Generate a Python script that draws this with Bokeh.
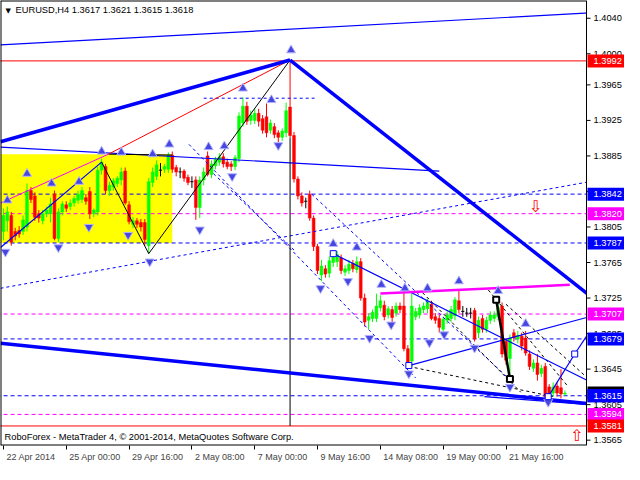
from bokeh.plotting import figure
from bokeh.models import Range1d, FixedTicker, Label
from bokeh.embed import file_html
from bokeh.resources import INLINE
from bokeh.core.properties import value

FONT = "Liberation Sans"
FS = "9.3px"

# ---------------- candles (EURUSD H4) ----------------
opens = [1.3800,1.3812,1.3818,1.3800,1.3801,1.3800,1.3805,1.3846,1.3840,1.3820,
         1.3812,1.3820,1.3820,1.3842,1.3792,1.3822,1.3830,1.3828,1.3832,1.3835,
         1.3836,1.3838,1.3845,1.3820,1.3822,1.3869,1.3873,1.3846,1.3850,1.3854,
         1.3858,1.3868,1.3830,1.3808,1.3812,1.3810,1.3810,1.3784,1.3855,1.3862,
         1.3869,1.3870,1.3870,1.3886,1.3872,1.3867,1.3868,1.3861,1.3856,1.3858,
         1.3827,1.3858,1.3885,1.3864,1.3874,1.3878,1.3884,1.3878,1.3876,1.3873,
         1.3882,1.3922,1.3941,1.3925,1.3925,1.3933,1.3927,1.3929,1.3914,1.3918,
         1.3911,1.3906,1.3911,1.3940,1.3908,1.3859,1.3840,1.3834,1.3842,1.3815,
         1.3783,1.3751,1.3758,1.3753,1.3765,1.3766,1.3770,1.3754,1.3756,1.3764,
         1.3757,1.3766,1.3725,1.3700,1.3702,1.3702,1.3714,1.3717,1.3706,1.3712,
         1.3708,1.3716,1.3716,1.3668,1.3654,1.3704,1.3706,1.3712,1.3713,1.3718,
         1.3704,1.3702,1.3690,1.3700,1.3702,1.3705,1.3722,1.3710,1.3708,1.3708,
         1.3711,1.3686,1.3702,1.3690,1.3700,1.3702,1.3704,1.3716,1.3676,1.3657,
         1.3686,1.3679,1.3682,1.3680,1.3662,1.3646,1.3652,1.3640,1.3648,1.3625,
         1.3618,1.3626,1.3624,1.3617]
highs = [1.3826,1.3828,1.3822,1.3804,1.3806,1.3818,1.3854,1.3850,1.3844,1.3824,
         1.3824,1.3828,1.3838,1.3846,1.3826,1.3834,1.3834,1.3836,1.3840,1.3846,
         1.3850,1.3842,1.3850,1.3826,1.3873,1.3882,1.3876,1.3856,1.3860,1.3862,
         1.3872,1.3872,1.3834,1.3816,1.3815,1.3814,1.3814,1.3860,1.3872,1.3880,
         1.3877,1.3876,1.3889,1.3890,1.3875,1.3872,1.3870,1.3864,1.3862,1.3862,
         1.3862,1.3872,1.3890,1.3880,1.3884,1.3888,1.3888,1.3882,1.3879,1.3886,
         1.3934,1.3951,1.3946,1.3936,1.3938,1.3938,1.3931,1.3944,1.3926,1.3922,
         1.3914,1.3916,1.3945,1.3992,1.3912,1.3862,1.3844,1.3838,1.3846,1.3818,
         1.3786,1.3768,1.3762,1.3772,1.3776,1.3778,1.3774,1.3762,1.3768,1.3768,
         1.3772,1.3770,1.3730,1.3708,1.3712,1.3730,1.3728,1.3722,1.3716,1.3716,
         1.3720,1.3720,1.3738,1.3672,1.3730,1.3714,1.3718,1.3720,1.3724,1.3722,
         1.3708,1.3706,1.3704,1.3710,1.3716,1.3726,1.3734,1.3716,1.3714,1.3714,
         1.3714,1.3704,1.3706,1.3704,1.3710,1.3710,1.3724,1.3720,1.3680,1.3684,
         1.3690,1.3688,1.3686,1.3688,1.3666,1.3656,1.3662,1.3650,1.3652,1.3628,
         1.3630,1.3630,1.3645,1.3621]
lows = [1.3790,1.3800,1.3784,1.3790,1.3793,1.3796,1.3800,1.3832,1.3812,1.3810,
        1.3808,1.3816,1.3810,1.3790,1.3788,1.3818,1.3822,1.3824,1.3828,1.3831,
        1.3832,1.3830,1.3814,1.3816,1.3818,1.3864,1.3842,1.3840,1.3846,1.3850,
        1.3852,1.3830,1.3808,1.3804,1.3804,1.3800,1.3784,1.3775,1.3850,1.3858,
        1.3862,1.3866,1.3866,1.3866,1.3862,1.3860,1.3856,1.3852,1.3849,1.3813,
        1.3815,1.3852,1.3862,1.3860,1.3870,1.3874,1.3872,1.3870,1.3868,1.3869,
        1.3878,1.3918,1.3920,1.3920,1.3921,1.3918,1.3910,1.3906,1.3910,1.3905,
        1.3900,1.3902,1.3906,1.3905,1.3855,1.3836,1.3828,1.3826,1.3812,1.3778,
        1.3752,1.3744,1.3748,1.3748,1.3760,1.3760,1.3752,1.3750,1.3752,1.3754,
        1.3753,1.3722,1.3693,1.3690,1.3698,1.3698,1.3710,1.3700,1.3702,1.3698,
        1.3704,1.3708,1.3665,1.3649,1.3648,1.3700,1.3702,1.3708,1.3708,1.3700,
        1.3696,1.3686,1.3686,1.3696,1.3698,1.3700,1.3708,1.3704,1.3704,1.3702,
        1.3676,1.3680,1.3686,1.3686,1.3696,1.3698,1.3700,1.3658,1.3650,1.3634,
        1.3676,1.3674,1.3666,1.3660,1.3644,1.3642,1.3632,1.3636,1.3610,1.3606,
        1.3614,1.3614,1.3612,1.3615]
closes = [1.3818,1.3822,1.3788,1.3795,1.3797,1.3813,1.3846,1.3836,1.3816,1.3815,
          1.3820,1.3824,1.3831,1.3792,1.3822,1.3831,1.3826,1.3832,1.3837,1.3842,
          1.3846,1.3834,1.3820,1.3824,1.3869,1.3878,1.3846,1.3852,1.3857,1.3860,
          1.3867,1.3832,1.3811,1.3812,1.3808,1.3805,1.3791,1.3856,1.3867,1.3875,
          1.3869,1.3873,1.3886,1.3870,1.3867,1.3867,1.3860,1.3855,1.3856,1.3827,
          1.3858,1.3867,1.3864,1.3876,1.3881,1.3884,1.3876,1.3873,1.3873,1.3883,
          1.3930,1.3941,1.3924,1.3931,1.3933,1.3924,1.3914,1.3911,1.3922,1.3909,
          1.3906,1.3913,1.3936,1.3908,1.3859,1.3840,1.3832,1.3834,1.3815,1.3783,
          1.3756,1.3761,1.3752,1.3767,1.3771,1.3774,1.3756,1.3758,1.3763,1.3758,
          1.3766,1.3725,1.3698,1.3704,1.3709,1.3716,1.3722,1.3704,1.3713,1.3703,
          1.3716,1.3712,1.3668,1.3652,1.3716,1.3710,1.3714,1.3716,1.3720,1.3702,
          1.3700,1.3692,1.3701,1.3706,1.3712,1.3723,1.3712,1.3710,1.3708,1.3708,
          1.3679,1.3700,1.3690,1.3700,1.3706,1.3706,1.3714,1.3662,1.3655,1.3680,
          1.3680,1.3683,1.3671,1.3663,1.3648,1.3652,1.3639,1.3646,1.3614,1.3614,
          1.3625,1.3618,1.3617,1.3618]

# ---------------- axes ----------------
price_ticks = [1.4040, 1.4000, 1.3965, 1.3925, 1.3885, 1.3845, 1.3805, 1.3765,
               1.3725, 1.3685, 1.3645, 1.3605, 1.3565]
date_ticks = [0, 16, 32, 48, 64, 80, 96, 112, 128]
date_labels = ["22 Apr 2014", "25 Apr 00:00", "29 Apr 16:00", "2 May 08:00", "7 May 00:00",
               "9 May 16:00", "14 May 08:00", "19 May 00:00", "21 May 16:00"]

# ---------------- horizontal levels ----------------
level_prices = [1.3992, 1.3842, 1.3820, 1.3787, 1.3707, 1.3679, 1.3615, 1.3594, 1.3581]
level_colors = ["#FF0000", "#0000FF", "#FF00FF", "#0000FF", "#FF00FF", "#0000FF", "#0000FF", "#FF00FF", "#FF0000"]
level_solid = [True, False, False, False, False, False, False, False, True]
last_price = 1.3618

# ---------------- drawing objects (bar index, price) ----------------
yellow_box = (-0.75, 43.0, 1.3787, 1.3887)  # left, right, bottom, top
thin_blue = [(-0.75, 1.4010, 149.25, 1.4046), (-0.75, 1.3895, 111.0, 1.3868),
             (-0.75, 1.3782, 25.0, 1.3878), (84.0, 1.3775, 149.25, 1.3631),
             (103.25, 1.3649, 149.25, 1.3704), (138.75, 1.3614, 145.5, 1.3662),
             (145.5, 1.3662, 149.25, 1.3687), (122.5, 1.3614, 149.25, 1.3605)]
thick_blue = [(-0.75, 1.3901, 73.0, 1.3993), (73.0, 1.3993, 149.25, 1.3728),
              (-0.75, 1.3674, 149.25, 1.3606)]
dashed_blue = [(-0.75, 1.3736, 149.25, 1.3856), (47.25, 1.3898, 105.0, 1.3635),
               (78.5, 1.3842, 129.0, 1.3633), (53.5, 1.3865, 74.25, 1.3778),
               (51.0, 1.3950, 79.25, 1.3950)]
black_thin = [(25.0, 1.3878, 37.0, 1.3775), (37.0, 1.3775, 73.0, 1.3993),
              (73.0, 1.3905, 73.0, 1.3581), (26.75, 1.3887, 43.0, 1.3886)]
red_thin = [(26.75, 1.3887, 73.0, 1.3993)]
magenta_thin = [(-0.75, 1.3832, 26.75, 1.3887)]
magenta_thick = [(96.0, 1.3730, 144.25, 1.3740)]
black_thick = [(125.5, 1.3723, 129.0, 1.3634)]
black_dashed = [(106.75, 1.3731, 131.75, 1.3619), (123.5, 1.3734, 143.5, 1.3627),
                (128.0, 1.3718, 148.75, 1.3635), (103.25, 1.3648, 140.0, 1.3614)]

up_x = [1.0, 6.0, 12.25, 19.25, 25.0, 30.0, 38.0, 42.25, 52.25, 56.25, 61.0, 68.25, 73.25,
        84.0, 90.0, 96.25, 102.25, 108.0, 116.0, 126.0, 133.0]
up_y = [1.3835, 1.3865, 1.3854, 1.3856, 1.3890, 1.3889, 1.3887, 1.3898, 1.3895, 1.3896, 1.3961,
        1.3948, 1.4004, 1.3786, 1.3782, 1.3740, 1.3736, 1.3736, 1.3744, 1.3733, 1.3696]
down_x = [0.5, 14.0, 21.75, 31.75, 37.25, 50.0, 58.25, 70.0, 80.75, 87.75, 93.25, 98.75,
          103.25, 108.5, 112.25, 120.0, 129.0, 138.75]
down_y = [1.3777, 1.3782, 1.3805, 1.3796, 1.3766, 1.3802, 1.3862, 1.3897, 1.3736, 1.3744,
          1.3680, 1.3695, 1.3640, 1.3675, 1.3684, 1.3669, 1.3625, 1.3608]
blue_sq_x = [84.0, 103.25, 138.75, 145.5]
blue_sq_y = [1.3775, 1.3649, 1.3614, 1.3662]
black_sq_x = [125.5, 129.0]
black_sq_y = [1.3723, 1.3634]
sig_down = (135.5, 1.3828)
sig_up = (146.0, 1.3570)

# ---------------- geometry ----------------
W, H = 624, 464
SCALE_PX = 38                      # width of the price-scale strip
X0, X_CH = -0.75, 148.5            # visible bars (chart part)
PPB = (W - SCALE_PX) / (X_CH - X0)  # pixels per bar
X1 = X0 + W / PPB
Y0, Y1 = 1.3559, 1.4060

p = figure(width=W, height=H, x_range=Range1d(X0, X1), y_range=Range1d(Y0, Y1),
           output_backend="svg", toolbar_location=None, y_axis_location=None,
           min_border_left=0, min_border_top=0, min_border_bottom=0, min_border_right=0,
           background_fill_color="white", border_fill_color="white")
p.xgrid.visible = False
p.ygrid.visible = False
p.outline_line_color = None

# date axis: tick marks (minor ticks) at the bar times, labels set just to their right
CW = {" ": 0.278, ":": 0.278, "A": 0.667, "M": 0.833, "p": 0.556, "r": 0.333, "a": 0.556, "y": 0.5}
def text_w(s, px=9.0):
    return sum(CW.get(ch, 0.556) for ch in s) * px

label_pos = [round(t + (3 + text_w(l) / 2) / PPB, 3) for t, l in zip(date_ticks, date_labels)]
xa = p.xaxis[0]
xa.ticker = FixedTicker(ticks=label_pos, minor_ticks=date_ticks)
xa.major_label_overrides = {pos: l for pos, l in zip(label_pos, date_labels)}
xa.major_label_text_font = FONT
xa.major_label_text_font_size = "9px"
xa.major_label_standoff = 2
xa.major_tick_out = 0
xa.major_tick_in = 0
xa.minor_tick_out = 4
xa.minor_tick_in = 0
xa.minor_tick_line_color = "black"
xa.axis_line_color = None

# yellow rectangle (background object)
p.quad(left=[yellow_box[0]], right=[yellow_box[1]], bottom=[yellow_box[2]], top=[yellow_box[3]],
       fill_color="#FFFF00", line_color=None)

# horizontal levels
for lv, col, solid in zip(level_prices, level_colors, level_solid):
    p.segment(x0=[X0 - 1], y0=[lv], x1=[X_CH], y1=[lv], line_color=col, line_width=1,
              line_dash="solid" if solid else "4 3")

# candles
n = len(opens)
idx = list(range(n))
wick_cols = ["#00FF00" if c > o else ("#FF0000" if c < o else "#000000") for o, c in zip(opens, closes)]
p.segment(x0=idx, y0=lows, x1=idx, y1=highs, line_color=wick_cols, line_width=1)
body_top = [max(o, c) for o, c in zip(opens, closes)]
body_bot = [min(o, c) for o, c in zip(opens, closes)]
body_cols = ["#00FF00" if c > o else "#FF0000" for o, c in zip(opens, closes)]
nd = [i for i in idx if opens[i] != closes[i]]
p.vbar(x=nd, width=0.72, top=[body_top[i] for i in nd], bottom=[body_bot[i] for i in nd],
       fill_color=[body_cols[i] for i in nd], line_color=[body_cols[i] for i in nd], line_width=0.5)
dj = [i for i in idx if opens[i] == closes[i]]
p.segment(x0=[i - 0.4 for i in dj], y0=[opens[i] for i in dj], x1=[i + 0.4 for i in dj],
          y1=[opens[i] for i in dj], line_color="black", line_width=1)


def segs(lst, **kw):
    p.segment(x0=[s[0] for s in lst], y0=[s[1] for s in lst],
              x1=[s[2] for s in lst], y1=[s[3] for s in lst], **kw)


segs(dashed_blue, line_color="#0000FF", line_width=1, line_dash="3 3")
segs(black_dashed, line_color="#000000", line_width=1, line_dash="3 3")
segs(thin_blue, line_color="#0000FF", line_width=1.2)
segs(black_thin, line_color="#000000", line_width=1)
segs(red_thin, line_color="#FF0000", line_width=1)
segs(magenta_thin, line_color="#FF00FF", line_width=1)
segs(magenta_thick, line_color="#FF00FF", line_width=2.5)
segs(thick_blue, line_color="#0000FF", line_width=3.5)
segs(black_thick, line_color="#000000", line_width=2.5)

# fractal arrows and markers
p.scatter(x=up_x, y=up_y, marker="triangle", size=9, fill_color="#4646E0",
          line_color="#B4B4FF", line_width=1)
p.scatter(x=down_x, y=down_y, marker="inverted_triangle", size=9, fill_color="#4646E0",
          line_color="#B4B4FF", line_width=1)
p.scatter(x=blue_sq_x, y=blue_sq_y, marker="square", size=6, fill_color="white",
          line_color="#0000FF", line_width=1)
p.scatter(x=black_sq_x, y=black_sq_y, marker="square", size=6, fill_color="white",
          line_color="#000000", line_width=2)
p.text(x=[sig_down[0], sig_up[0]], y=[sig_down[1], sig_up[1]], text=["⇩", "⇧"],
       text_color="#FF0000", text_font=value("DejaVu Sans"), text_font_size="16px",
       text_align="center", text_baseline="middle")

# ---------------- price scale strip ----------------
p.quad(left=[X_CH], right=[X1 + 1], bottom=[Y0 - 1], top=[Y1 + 1], fill_color="white", line_color=None)
# chart border
p.segment(x0=[X0, X0, X0, X_CH], y0=[Y0, Y0, Y1, Y0], x1=[X0, X_CH, X_CH, X_CH],
          y1=[Y1, Y0, Y1, Y1], line_color="black", line_width=[2, 2, 2, 1])
p.ray(x=[X_CH] * len(price_ticks), y=price_ticks, length=4, length_units="screen", angle=0,
      line_color="black", line_width=1)
p.text(x=[X_CH] * len(price_ticks), y=price_ticks, text=[f"{t:.4f}" for t in price_ticks],
       x_offset=7, text_color="black", text_font=value(FONT), text_font_size=FS,
       text_align="left", text_baseline="middle")

tag_left = X_CH + 1.0 / PPB
tag_right = X1 + 1
tag_prices = [last_price] + level_prices
tag_cols = ["#000000"] + level_colors
p.rect(x=[(tag_left + tag_right) / 2] * len(tag_prices), y=tag_prices, width=tag_right - tag_left,
       height=13, height_units="screen", fill_color=tag_cols, line_color=None)
p.text(x=[X_CH] * len(tag_prices), y=tag_prices, text=[f"{v:.4f}" for v in tag_prices],
       x_offset=7, text_color="white", text_font=value(FONT), text_font_size=FS,
       text_align="left", text_baseline="middle")
# the 1.3615 tag lies over the current-price tag
p.rect(x=[(tag_left + tag_right) / 2], y=[level_prices[6]], width=tag_right - tag_left,
       height=13, height_units="screen", fill_color=level_colors[6], line_color=None)
p.text(x=[X_CH], y=[level_prices[6]], text=[f"{level_prices[6]:.4f}"], x_offset=7,
       text_color="white", text_font=value(FONT), text_font_size=FS, text_align="left",
       text_baseline="middle")

# header and footer texts
p.add_layout(Label(x=X0, y=Y1, x_offset=5, y_offset=-6, text="▼", text_font="DejaVu Sans",
                   text_font_size="7px", text_baseline="top", text_color="black"))
p.add_layout(Label(x=X0, y=Y1, x_offset=15, y_offset=-4,
                   text="EURUSD,H4  1.3617 1.3621 1.3615 1.3618", text_font=FONT,
                   text_font_size=FS, text_baseline="top", text_color="black"))
p.add_layout(Label(x=X0, y=Y0, x_offset=4, y_offset=4,
                   text="RoboForex - MetaTrader 4, © 2001-2014, MetaQuotes Software Corp.",
                   text_font=FONT, text_font_size=FS, text_baseline="bottom",
                   text_color="black"))

open("out.html", "w").write(file_html(p, INLINE))
